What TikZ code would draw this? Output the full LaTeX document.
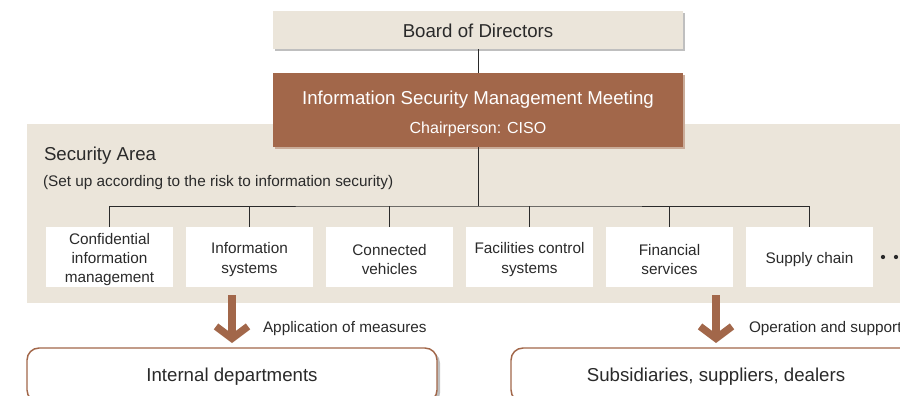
\documentclass[tikz,border=0pt]{standalone}
\usepackage{fontspec}
\setmainfont{Liberation Sans}
\usetikzlibrary{arrows.meta,positioning,shadows,calc}
\definecolor{sand}{HTML}{EBE5DA}
\definecolor{rust}{HTML}{A2674A}
\definecolor{ink}{HTML}{2A2A2A}

\begin{document}
\begin{tikzpicture}[
  x=0.75pt, y=-0.75pt,
  node distance=9.75pt,
  every node/.style={text=ink, outer sep=0pt},
  top/.style={rectangle, fill=sand, minimum width=307.5pt, minimum height=28.5pt,
              font=\fontsize{14}{17}\selectfont,
              drop shadow={shadow xshift=1.5pt, shadow yshift=-1.5pt, fill=black!25, opacity=1}},
  meeting/.style={rectangle, fill=rust, text=white, minimum width=307.5pt,
                  minimum height=55.5pt, align=center, font=\fontsize{14}{17}\selectfont,
                  drop shadow={shadow xshift=1.5pt, shadow yshift=-1.5pt, fill=rust!45!sand, opacity=1}},
  area/.style={rectangle, fill=sand, minimum width=669.75pt, minimum height=134.25pt,
               anchor=north west, inner sep=0pt},
  field/.style={rectangle, fill=white, minimum width=95.25pt, minimum height=45pt,
                align=center, inner sep=0pt, font=\fontsize{11.5}{14.5}\selectfont},
  target/.style={rectangle, rounded corners=9pt, draw=rust, line width=1.1pt, fill=white,
                 minimum width=307.5pt, minimum height=40.5pt, font=\fontsize{14}{17}\selectfont,
                 drop shadow={shadow xshift=2.25pt, shadow yshift=-2.25pt, fill=black!25, opacity=1}},
  link/.style={draw=ink, line width=0.75pt},
  flow/.style={draw=rust, line width=5.5pt, -{Straight Barb[length=9pt, width=24pt]}},
  note/.style={anchor=west, inner sep=0pt, font=\fontsize{11.5}{14}\selectfont},
]
  \clip (0,0) rectangle (900,396);

  % governance
  \node[top] (board) at (478,30) {\rule{0pt}{12pt}Board of Directors};
  \node[area] (area) at (27,124) {};
  \node[meeting] (ismm) at (478,110) {\rule{0pt}{16pt}Information Security Management Meeting\\[4.75pt]
    \fontsize{12}{17}\selectfont Chairperson: CISO};

  \node[note, font=\fontsize{14}{17}\selectfont] (title) at (44,156) {Security Area};
  \node[note] (subtitle) at (43,183) {(Set up according to the risk to information security)};

  % security areas
  \node[field] (c1) at (109.5,257) {\rule{0pt}{12pt}Confidential\\information\\management};
  \node[field, right=of c1] (c2) {\rule{0pt}{12pt}Information\\systems};
  \node[field, right=of c2] (c3) {\rule{0pt}{12pt}Connected\\vehicles};
  \node[field, right=of c3] (c4) {\rule{0pt}{12pt}Facilities control\\systems};
  \node[field, right=of c4] (c5) {\rule{0pt}{12pt}Financial\\services};
  \node[field, right=of c5] (c6) {\rule{0pt}{12pt}Supply chain};
  \fill[ink] (883,257) circle (1.6pt) (896,257) circle (1.6pt);

  \coordinate (bus) at (478,206);
  \draw[link] (board) -- (ismm);
  \draw[link] (ismm) -- (bus);
  \draw[link] (c1.north) |- (bus) -| (c6.north);
  \draw[link] (c2.north) -- (c2.north |- bus);
  \draw[link] (c3.north) -- (c3.north |- bus);
  \draw[link] (c4.north) -- (c4.north |- bus);
  \draw[link] (c5.north) -- (c5.north |- bus);

  % recipients
  \node[target] (internal) at (232,375) {\rule{0pt}{13pt}Internal departments};
  \node[target] (subs) at (716,375) {\rule{0pt}{13pt}Subsidiaries, suppliers, dealers};

  \draw[flow] ($(internal.north |- area.south)+(0,-8)$) -- ($(internal.north)+(0,-5)$);
  \draw[flow] ($(subs.north |- area.south)+(0,-8)$) -- ($(subs.north)+(0,-5)$);
  \node[note] (apply) at (263,329) {Application of measures};
  \node[note] (support) at (749,329) {Operation and support};
\end{tikzpicture}
\end{document}
